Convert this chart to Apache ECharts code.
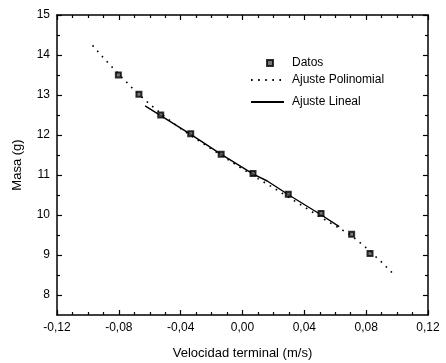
<!DOCTYPE html>
<html>
<head>
<meta charset="utf-8">
<script src="https://cdn.jsdelivr.net/npm/echarts@6/dist/echarts.min.js"></script>
<style>
  html, body { margin: 0; padding: 0; background: #fff; }
  #chart { width: 446px; height: 363px; }
</style>
</head>
<body>
<div id="chart"></div>
<script>
// data
const velocidad = [-0.0803, -0.0670, -0.0529, -0.0335, -0.0138, 0.0068, 0.0296, 0.0508, 0.0706, 0.0825];
const masa = [13.5, 13.02, 12.5, 12.03, 11.52, 11.04, 10.52, 10.04, 9.52, 9.04];

const polyX = [-0.097, -0.09, -0.08, -0.07, -0.06, -0.05, -0.04, -0.03, -0.02, -0.01, 0, 0.01, 0.02, 0.03, 0.04, 0.05, 0.06, 0.07, 0.08, 0.09, 0.099];
const polyY = [14.24, 13.93, 13.52, 13.12, 12.77, 12.45, 12.16, 11.9, 11.65, 11.4, 11.15, 10.91, 10.68, 10.44, 10.2, 9.96, 9.73, 9.5, 9.18, 8.82, 8.47];

const linX = [-0.063, -0.034, -0.014, 0.007, 0.016, 0.03, 0.051, 0.0626];
const linY = [12.73, 12.03, 11.52, 11.02, 10.85, 10.5, 10.0, 9.71];

// y ticks: labelled at integers, small ticks at the halves
const yTicks = [8, 9, 10, 11, 12, 13, 14, 15];
const yMinorTicks = [8.5, 9.5, 10.5, 11.5, 12.5, 13.5, 14.5];

const pair = (xs, ys) => xs.map((x, i) => [x, ys[i]]);

const chart = echarts.init(document.getElementById("chart"));
const font = "Liberation Sans, Arial, sans-serif";

function fmtX(v) {
  return v.toFixed(2).replace(".", ",");
}

const axisLine = { show: true, onZero: false, lineStyle: { color: "#000", width: 1.5 } };
const tickLine = { color: "#000", width: 1.2 };

function xAxisOf(pos, withLabels) {
  return {
    type: "value", min: -0.12, max: 0.12, interval: 0.04, position: pos,
    axisLine: axisLine,
    axisTick: { inside: true, length: 5, lineStyle: tickLine },
    minorTick: { show: true, splitNumber: 4, length: 3, lineStyle: tickLine },
    axisLabel: withLabels
      ? { formatter: fmtX, fontFamily: font, fontSize: 12, color: "#000", margin: 7 }
      : { show: false },
    splitLine: { show: false },
  };
}

function yAxisOf(pos, ticks, len, withLine, withLabels) {
  return {
    type: "value", min: 7.5, max: 15, interval: 0.5, position: pos,
    axisLine: withLine ? axisLine : { show: false, onZero: false },
    axisTick: { inside: true, length: len, lineStyle: tickLine, customValues: ticks },
    axisLabel: withLabels
      ? { customValues: ticks, fontFamily: font, fontSize: 12, color: "#000", margin: 7 }
      : { show: false },
    splitLine: { show: false },
  };
}

const legendBase = {
  orient: "vertical",
  itemGap: 0,
  padding: 0,
  textStyle: { fontFamily: font, fontSize: 12, color: "#000", padding: [0, 0, 0, 3] },
  itemStyle: { opacity: 0 },
  selectedMode: false,
};

const xBottom = xAxisOf("bottom", true);
xBottom.name = "Velocidad terminal (m/s)";
xBottom.nameLocation = "middle";
xBottom.nameGap = 32;
xBottom.nameTextStyle = { fontFamily: font, fontSize: 13, color: "#000" };

const yLeft = yAxisOf("left", yTicks, 5, true, true);
yLeft.name = "Masa (g)";
yLeft.nameLocation = "middle";
yLeft.nameGap = 33;
yLeft.nameTextStyle = { fontFamily: font, fontSize: 13, color: "#000" };

chart.setOption({
  animation: false,
  grid: { left: 57, right: 18, top: 15, bottom: 48, containLabel: false, outerBoundsMode: "none" },
  legend: [
    Object.assign({}, legendBase, {
      data: ["Datos"],
      left: 266, top: 57, itemWidth: 6, itemHeight: 6,
      itemStyle: {},
      textStyle: Object.assign({}, legendBase.textStyle, { padding: [0, 0, 0, 14] }),
    }),
    Object.assign({}, legendBase, {
      data: ["Ajuste Polinomial"],
      left: 250, top: 74, itemWidth: 33, itemHeight: 14,
    }),
    Object.assign({}, legendBase, {
      data: ["Ajuste Lineal"],
      left: 250, top: 96, itemWidth: 33, itemHeight: 14,
    }),
  ],
  xAxis: [xBottom, xAxisOf("top", false)],
  yAxis: [
    yLeft,
    yAxisOf("right", yTicks, 5, true, false),
    yAxisOf("left", yMinorTicks, 3, false, false),
    yAxisOf("right", yMinorTicks, 3, false, false),
  ],
  series: [
    {
      name: "Ajuste Polinomial",
      type: "line",
      data: pair(polyX, polyY),
      showSymbol: false,
      symbol: "none",
      lineStyle: { color: "#000", width: 1.6, type: [1.6, 5.5] },
      itemStyle: { color: "#000" },
      z: 2,
    },
    {
      name: "Ajuste Lineal",
      type: "line",
      data: pair(linX, linY),
      showSymbol: false,
      symbol: "none",
      lineStyle: { color: "#000", width: 1.4 },
      itemStyle: { color: "#000" },
      z: 3,
    },
    {
      name: "Datos",
      type: "scatter",
      data: pair(velocidad, masa),
      symbol: "rect",
      symbolSize: 5,
      itemStyle: { color: "#555", borderColor: "#000", borderWidth: 2 },
      z: 4,
    },
  ],
});
</script>
</body>
</html>
